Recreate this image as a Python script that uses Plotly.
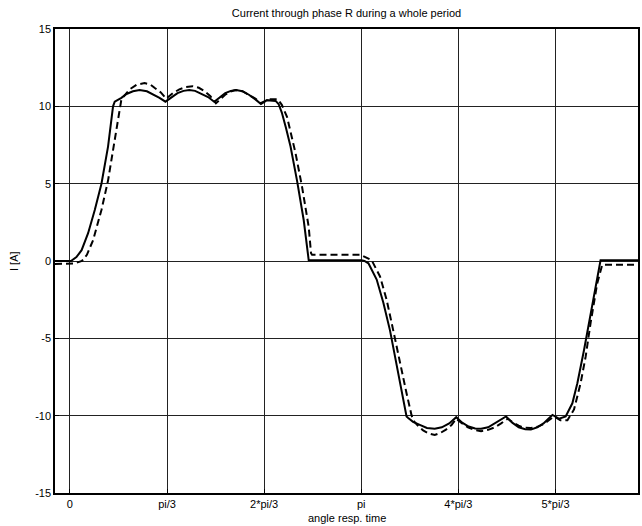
"""
Current through phase R during a whole period.
"""

import numpy as np
import plotly.graph_objects as go

# angle in rad, current in A
solid_angle = [
    -0.161, 0.011, 0.070, 0.126, 0.196, 0.268, 0.340, 0.411, 0.465, 0.483,
    0.555, 0.610, 0.680, 0.751, 0.830, 0.900, 0.966, 1.030,
    1.095, 1.160, 1.225, 1.287, 1.350, 1.420, 1.490, 1.556,
    1.615, 1.675, 1.735, 1.792, 1.860, 1.930, 2.000, 2.060,
    2.124, 2.218, 2.250, 2.285, 2.330, 2.379, 2.449, 2.521, 2.575,
    3.144, 3.176, 3.219, 3.308, 3.380, 3.452, 3.505, 3.576, 3.630, 3.648,
    3.700, 3.773, 3.850, 3.934, 4.010, 4.090, 4.166,
    4.230, 4.300, 4.370, 4.434, 4.510, 4.580, 4.640, 4.703,
    4.770, 4.840, 4.910, 4.971, 5.040, 5.107, 5.160, 5.204,
    5.276, 5.346, 5.418, 5.472, 5.544, 5.597, 5.651, 5.722, 6.126,
]
solid_current = [
    0.0, 0.0, 0.25, 0.7, 1.8, 3.3, 5.0, 7.4, 10.0, 10.3,
    10.55, 10.8, 10.97, 11.05, 10.97, 10.78, 10.55, 10.3,
    10.6, 10.85, 11.0, 11.05, 11.0, 10.82, 10.6, 10.3,
    10.6, 10.85, 11.0, 11.05, 10.98, 10.75, 10.45, 10.15,
    10.4, 10.35, 10.15, 9.6, 8.6, 7.4, 5.2, 2.65, 0.05,
    0.05, 0.0, -0.15, -1.2, -2.7, -4.5, -6.2, -8.3, -10.05, -10.15,
    -10.4, -10.6, -10.8, -10.85, -10.75, -10.5, -10.1,
    -10.45, -10.7, -10.83, -10.85, -10.75, -10.5, -10.3, -10.05,
    -10.45, -10.75, -10.88, -10.9, -10.75, -10.5, -10.2, -9.95,
    -10.2, -10.05, -9.2, -7.9, -5.75, -4.0, -2.1, 0.05, 0.05,
]

dashed_angle = [
    -0.161, 0.054, 0.129, 0.183, 0.250, 0.340, 0.411, 0.465, 0.519, 0.555,
    0.644, 0.720, 0.805, 0.870, 0.912, 0.980, 1.037,
    1.110, 1.180, 1.250, 1.323, 1.390, 1.448, 1.515, 1.574,
    1.625, 1.674, 1.730, 1.788, 1.860, 1.931, 2.000, 2.057,
    2.146, 2.242, 2.285, 2.342, 2.432, 2.503, 2.575, 2.600, 2.611,
    3.133, 3.197, 3.254, 3.344, 3.415, 3.487, 3.559, 3.630, 3.683, 3.702,
    3.760, 3.809, 3.870, 3.934, 4.000, 4.055, 4.115, 4.166,
    4.230, 4.292, 4.360, 4.434, 4.510, 4.581, 4.650, 4.721,
    4.780, 4.839, 4.900, 4.971, 5.040, 5.107, 5.165, 5.222,
    5.289, 5.365, 5.436, 5.507, 5.561, 5.615, 5.686, 5.740, 6.126,
]
dashed_current = [
    -0.2, -0.15, 0.0, 0.4, 1.35, 3.3, 5.2, 7.2, 9.3, 10.45,
    11.1, 11.4, 11.5, 11.4, 11.2, 10.9, 10.5,
    10.85, 11.1, 11.25, 11.3, 11.2, 11.0, 10.65, 10.2,
    10.5, 10.75, 10.95, 11.05, 10.98, 10.75, 10.5, 10.2,
    10.45, 10.45, 10.1, 9.3, 7.0, 4.8, 2.2, 0.5, 0.4,
    0.4, 0.2, 0.05, -1.0, -2.5, -4.5, -6.6, -8.55, -9.95, -10.3,
    -10.7, -10.95, -11.15, -11.25, -11.1, -10.9, -10.6, -10.2,
    -10.5, -10.75, -10.92, -11.0, -10.92, -10.75, -10.5, -10.2,
    -10.45, -10.65, -10.78, -10.8, -10.72, -10.55, -10.3, -10.05,
    -10.3, -10.3, -9.6, -7.9, -6.2, -4.0, -1.45, -0.25, -0.25,
]

x_tickvals = [0, np.pi / 3, 2 * np.pi / 3, np.pi, 4 * np.pi / 3, 5 * np.pi / 3]
x_ticktext = ["0", "pi/3", "2*pi/3", "pi", "4*pi/3", "5*pi/3"]
y_tickvals = [-15, -10, -5, 0, 5, 10, 15]
y_ticktext = ["-15", "-10", "-5", "0", "5", "10", "15"]

font = "Liberation Sans, Arial, sans-serif"

fig = go.Figure()

fig.add_trace(
    go.Scatter(
        x=dashed_angle,
        y=dashed_current,
        mode="lines",
        line={"color": "black", "width": 2, "dash": "7px,4px"},
        showlegend=False,
    )
)
fig.add_trace(
    go.Scatter(
        x=solid_angle,
        y=solid_current,
        mode="lines",
        line={"color": "black", "width": 2},
        showlegend=False,
    )
)

axis_common = dict(
    showline=True,
    mirror=True,
    linecolor="black",
    linewidth=1.5,
    showgrid=True,
    gridcolor="#222222",
    gridwidth=1,
    zeroline=False,
    ticks="inside",
    ticklen=4,
    tickcolor="black",
    tickfont={"family": font, "size": 11, "color": "black"},
)

fig.update_xaxes(
    range=[-0.161, 6.126],
    tickmode="array",
    tickvals=x_tickvals,
    ticktext=x_ticktext,
    **axis_common,
)
fig.update_yaxes(
    range=[-15, 15],
    tickmode="array",
    tickvals=y_tickvals,
    ticktext=y_ticktext,
    **axis_common,
)

fig.update_layout(
    width=642,
    height=526,
    margin={"l": 55, "r": 2, "t": 29, "b": 33},
    paper_bgcolor="white",
    plot_bgcolor="white",
    font={"family": font, "size": 11, "color": "black"},
    title={
        "text": "Current through phase R during a whole period",
        "x": 0.5,
        "xref": "paper",
        "xanchor": "center",
        "y": 1 - 13 / 526,
        "yref": "container",
        "yanchor": "middle",
        "font": {"family": font, "size": 11, "color": "black"},
    },
    annotations=[
        dict(
            text="angle resp. time",
            x=0.5,
            xref="paper",
            y=0,
            yref="paper",
            yanchor="top",
            yshift=-17,
            showarrow=False,
            font={"family": font, "size": 11, "color": "black"},
        ),
        dict(
            text="I [A]",
            x=0,
            xref="paper",
            y=0.5,
            yref="paper",
            xanchor="center",
            xshift=-41,
            textangle=-90,
            showarrow=False,
            font={"family": font, "size": 11, "color": "black"},
        ),
    ],
)

# page body has a default margin; drop it so the figure sits at the corner
fig.write_html(
    "out.html",
    config={"displayModeBar": False},
    post_script="document.body.style.margin='0';",
)
